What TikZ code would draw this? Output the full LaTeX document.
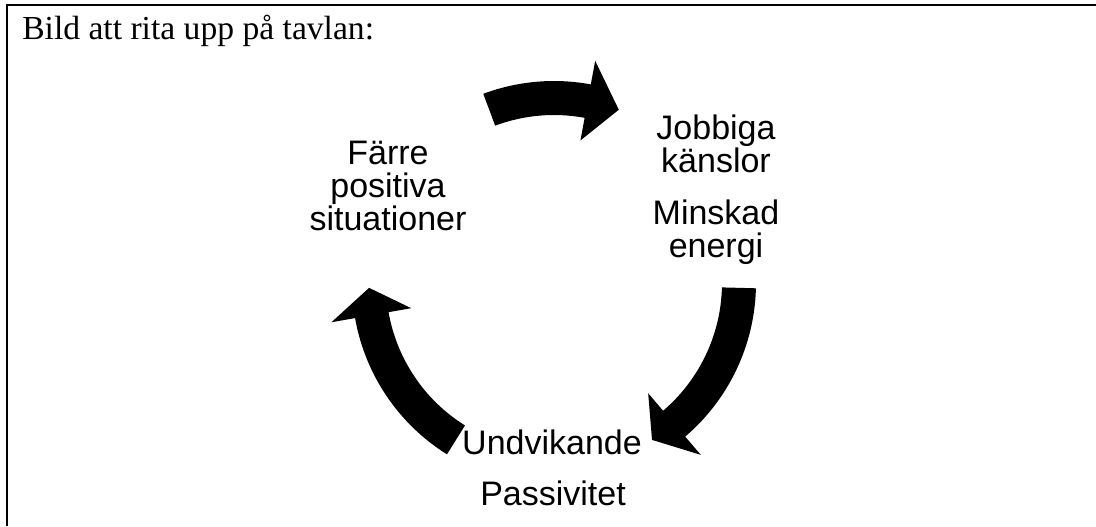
\documentclass[tikz,border=0pt]{standalone}
\usepackage{fontspec}
\setmainfont{Liberation Serif}
\newfontfamily\arialfont{Liberation Sans}
\usetikzlibrary{math}

\begin{document}
\begin{tikzpicture}[x=0.75pt,y=0.75pt,
  cycletext/.style={font=\arialfont\fontsize{25.5}{24.75}\selectfont, align=center, inner sep=0pt, anchor=base},
  cyclearrow/.style={fill=black, draw=none}]
\useasboundingbox (0,0) rectangle (1096,-526);
\tikzmath{
\Ri=168;
\Ro=202;
\Hi=145;
\Ho=226;
\Rm=185;
}

%frame and title
\draw[line width=1.5pt] (7,-526) -- (7,-5) -- (1096,-5);
\node[font=\fontsize{25.2}{30}\selectfont, inner sep=0pt, anchor=base west] (title) at (22,-39) {Bild att rita upp på tavlan:};

%arrows
\begin{scope}[shift={(554,-283)}]
\foreach \a/\b/\t in {110.5/79.5/69.5, -1.5/-49.5/-58, 238/190/181.5}{
  \fill[cyclearrow] (\a:\Ro) arc[start angle=\a, end angle=\b, radius=\Ro] -- (\b:\Ho) -- (\t:\Rm) -- (\b:\Hi) -- (\b:\Ri) arc[start angle=\b, end angle=\a, radius=\Ri] -- cycle;
}
\end{scope}

%texts (base = last line)
\node[cycletext] (jobbiga) at (716,-172) {Jobbiga\\känslor};
\node[cycletext] (minskad) at (716,-257) {Minskad\\energi};
\node[cycletext] (farre) at (388,-230) {Färre\\positiva\\situationer};
\node[cycletext] (undvikande) at (552,-454) {Undvikande};
\node[cycletext] (passivitet) at (553,-505) {Passivitet};

\end{tikzpicture}
\end{document}
